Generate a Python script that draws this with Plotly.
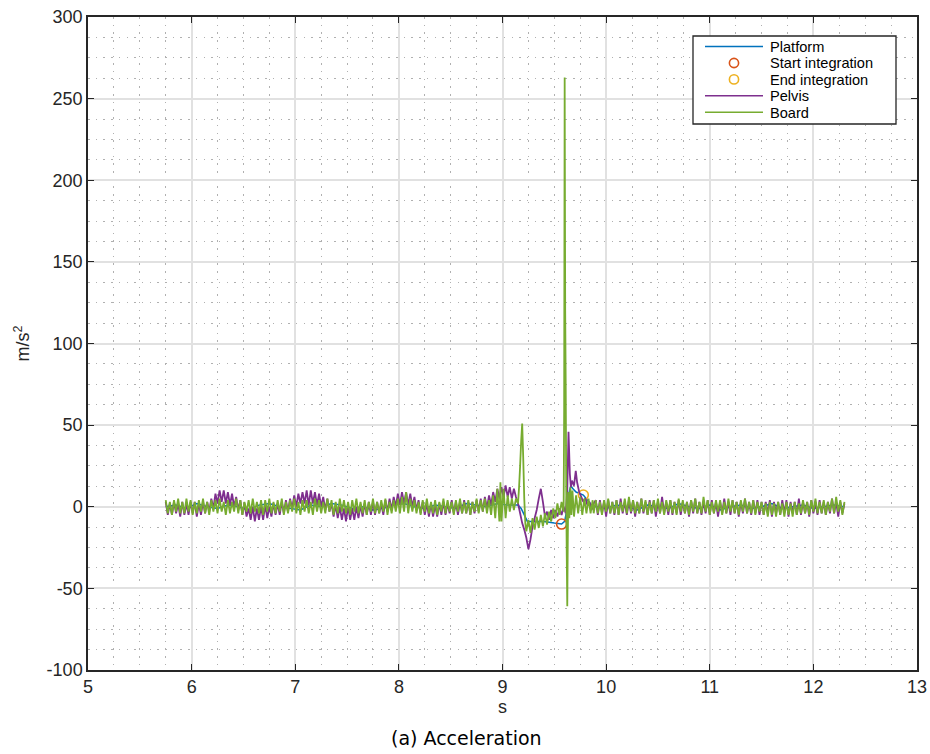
import numpy as np
import plotly.graph_objects as go

# ---------------- data ----------------
DT_FAST = 0.02   # sampling of the noisy segments (s)
DT_SLOW = 0.1    # sampling of the platform trace outside the event (s)

# Board (green)
board_pre_start = 5.75
board_pre = [
    4, -4, 3, -5, 4, -3, 5, -4, 3, -4, 5, -3, 4, -5, 3, -4, 4, -3, 5, -4,
    3, -5, 4, -3, 4, -4, 5, -3, 3, -5, 4, -4, 3, -3, 5, -4, 4, -5, 3, -3,
    4, -4, 5, -3, 3, -4, 4, -5, 4, -3, 5, -4, 3, -4, 4, -3, 5, -5, 3, -4,
    4, -3, 5, -4, 3, -5, 4, -3, 4, -4, 3, -5, 5, -3, 4, -4, 3, -4, 5, -3,
    4, -5, 3, -4, 5, -3, 4, -4, 3, -5, 4, -3, 5, -4, 3, -4, 4, -5, 3, -3,
    5, -4, 3, -4, 4, -3, 5, -5, 3, -4, 4, -3, 5, -4, 6, -3, 9, -4, 5, -3,
    4, -4, 3, -5, 4, -3, 5, -4, 3, -4, 4, -5, 3, -3, 5, -4, 4, -3, 3, -5,
    4, -3, 5, -4, 3, -4, 4, -5, 3, -3, 5, -4, 4, -3, 5, -4,
]
board_evt_t = [
    8.87, 8.89, 8.91, 8.93, 8.95, 8.97, 8.98, 8.99, 9.01, 9.03,
    9.05, 9.07, 9.09, 9.11, 9.13, 9.15, 9.16, 9.17, 9.18, 9.19,
    9.20, 9.21, 9.22, 9.23, 9.25, 9.27, 9.29, 9.31, 9.33, 9.35,
    9.37, 9.39, 9.41, 9.43, 9.45, 9.47, 9.49, 9.51, 9.53, 9.55,
    9.57, 9.59, 9.595, 9.60, 9.605, 9.61, 9.615, 9.62, 9.625, 9.63,
    9.635, 9.645, 9.655, 9.665, 9.675, 9.69, 9.71, 9.73, 9.75, 9.77,
    9.79, 9.81, 9.83, 9.85, 9.87, 9.88,
]
board_evt_v = [
    4, -5, 7, -7, 11, -9, 15, -9, 11, -7,
    7, -3, 5, -2, 5, 2, 12, 25, 40, 51,
    30, 5, -10, -15, -8, -16, -7, -14, -6, -13,
    -5, -12, -4, -11, -3, -9, -1, -7, 2, -5,
    3, -3, 60, 263, 120, 75, 10, -30, -61, -20,
    9, -7, 12, -5, 10, -6, 7, -4, 6, -5,
    5, -4, 5, -4, 4, -4,
]
board_post_start = 9.90
board_post = [
    4, -4, 3, -5, 4, -3, 5, -4, 3, -4, 4, -5, 3, -3, 5, -4, 6, -3, 4, -4,
    3, -4, 5, -3, 4, -5, 3, -4, 4, -3, 5, -4, 3, -5, 4, -3, 4, -4, 3, -5,
    5, -3, 4, -4, 3, -5, 4, -3, 5, -4, 3, -4, 6, -3, 4, -5, 3, -4, 4, -3,
    4, -5, 3, -4, 5, -3, 4, -4, 3, -5, 4, -3, 5, -4, 3, -4, 4, -5, 3, -3,
    3, -5, 2, -6, 3, -5, 2, -6, 3, -5, 2, -6, 3, -5, 2, -6, 3, -5, 2, -4,
    4, -4, 3, -5, 4, -3, 5, -4, 3, -4, 4, -5, 3, -3, 5, -4, 6, -3, 4, -5,
    3,
]

# Pelvis (purple)
pelvis_pre_start = 5.75
pelvis_pre = [
    3, -5, 2, -5, 3, -4, 2, -6, 3, -5, 2, -5, 3, -4, 3, -6, 2, -5, 3, -4,
    3, -3, 5, -1, 8, 2, 10, 3, 10, 2, 9, 1, 8, 0, 6, -2, 4, -5, 2, -6,
    -1, -8, 0, -9, -1, -8, 0, -8, 1, -7, 0, -6, 2, -5, 2, -5, 3, -4, 4, -3,
    5, -1, 7, 0, 8, 2, 9, 2, 10, 1, 10, 2, 9, 1, 8, 0, 6, -2, 5, -3,
    2, -6, 1, -7, 0, -8, -1, -9, 0, -8, -1, -8, 0, -7, 1, -6, 2, -5, 3, -5,
    3, -5, 3, -4, 2, -5, 4, -3, 5, -2, 6, 0, 8, 1, 9, 2, 9, 1, 8, 0,
    6, -2, 4, -4, 3, -5, 2, -6, 2, -6, 1, -6, 2, -5, 3, -5, 2, -4, 4, -4,
    3, -5, 3, -4, 4, -4, 3, -5, 3, -4, 4, -3, 5, -3, 6, -1,
]
pelvis_evt_t = [
    8.87, 8.89, 8.91, 8.93, 8.95, 8.97, 8.99, 9.01, 9.03, 9.05,
    9.07, 9.09, 9.11, 9.13, 9.15, 9.17, 9.19, 9.21, 9.23, 9.25,
    9.27, 9.29, 9.31, 9.33, 9.35, 9.37, 9.39, 9.41, 9.43, 9.45,
    9.47, 9.49, 9.51, 9.53, 9.55, 9.57, 9.59, 9.61, 9.625, 9.637,
    9.65, 9.66, 9.67, 9.69, 9.707, 9.72, 9.74, 9.76, 9.78, 9.80,
    9.82, 9.84, 9.86, 9.88,
]
pelvis_evt_v = [
    7, 1, 9, 3, 11, 5, 12, 6, 13, 6,
    12, 5, 11, 6, 2, -4, -10, -14, -19, -26,
    -20, -12, -7, -2, 5, 11, 3, -6, -3, -8,
    -2, -7, -2, -6, -1, -5, 0, -4, 10, 46,
    20, 12, 16, 13, 22, 15, 9, 6, 3, 5,
    1, 3, -2, 2,
]
pelvis_post_start = 9.90
pelvis_post = [
    4, -5, 4, -4, 3, -6, 4, -4, 3, -5, 4, -5, 5, -4, 3, -5, 4, -4, 4, -6,
    3, -4, 5, -4, 3, -5, 4, -4, 4, -6, 3, -4, 6, -4, 3, -5, 4, -5, 3, -4,
    4, -5, 3, -4, 3, -6, 4, -4, 5, -4, 3, -5, 3, -4, 4, -5, 4, -4, 3, -6,
    3, -4, 5, -4, 3, -5, 4, -4, 3, -6, 3, -4, 5, -4, 3, -5, 4, -4, 4, -5,
    3, -5, 3, -4, 4, -6, 3, -4, 3, -5, 4, -4, 4, -6, 3, -4, 3, -5, 5, -5,
    3, -4, 3, -6, 4, -4, 3, -5, 4, -4, 3, -5, 3, -4, 5, -4, 3, -6, 3, -4,
    2,
]

# Platform (blue)
platform_pre_start = 5.75
platform_pre = [0, 1, -1, 2, 0, -1, 1, 0, -2, 1, 2, 0, -1, -2, 1, 0, 2, 1, -1, 0,
                -2, -1, 1, 2, 0, -1, 1, 0, -1, 2, 1, 0, 2, 1, 1]
platform_evt_t = [9.18, 9.21, 9.24, 9.30, 9.40, 9.50, 9.57, 9.60, 9.62, 9.64,
                  9.66, 9.68, 9.71, 9.75, 9.78, 9.82, 9.86]
platform_evt_v = [-1, -5, -9, -9, -9, -10, -10.6, -9, -2, 8,
                  13, 11, 9, 8, 7.2, 4, 1]
platform_post_start = 9.90
platform_post = [0, -1, 1, 0, -2, 1, 0, -1, 2, 0, -1, 1, -2, 0, 1, -1, 0, 2, -1, 0,
                 1, -1, 0, 1, 0]

# Integration markers
start_t, start_v = [9.57], [-10.6]
end_t, end_v = [9.78], [7.2]

x_ticks = [5, 6, 7, 8, 9, 10, 11, 12, 13]
x_tick_labels = ["5", "6", "7", "8", "9", "10", "11", "12", "13"]
y_ticks = [-100, -50, 0, 50, 100, 150, 200, 250, 300]
y_tick_labels = ["-100", "-50", "0", "50", "100", "150", "200", "250", "300"]

C_PLATFORM = "#0072BD"
C_START = "#D95319"
C_END = "#EDB120"
C_PELVIS = "#7E2F8E"
C_BOARD = "#77AC30"


def assemble(pre_start, pre, evt_t, evt_v, post_start, post, dt):
    t_pre = pre_start + dt * np.arange(len(pre))
    t_post = post_start + dt * np.arange(len(post))
    t = np.concatenate([t_pre, np.array(evt_t, float), t_post])
    v = np.concatenate([np.array(pre, float), np.array(evt_v, float), np.array(post, float)])
    return np.round(t, 4), v


tb, vb = assemble(board_pre_start, board_pre, board_evt_t, board_evt_v,
                  board_post_start, board_post, DT_FAST)
tp, vp = assemble(pelvis_pre_start, pelvis_pre, pelvis_evt_t, pelvis_evt_v,
                  pelvis_post_start, pelvis_post, DT_FAST)
tf, vf = assemble(platform_pre_start, platform_pre, platform_evt_t, platform_evt_v,
                  platform_post_start, platform_post, DT_SLOW)

fig = go.Figure()
fig.add_trace(go.Scatter(x=tf, y=vf, mode="lines", name="Platform",
                         line=dict(color=C_PLATFORM, width=1.5, simplify=False)))
fig.add_trace(go.Scatter(x=start_t, y=start_v, mode="markers", name="Start integration",
                         marker=dict(symbol="circle-open", size=10, color=C_START,
                                     line=dict(width=1.6, color=C_START))))
fig.add_trace(go.Scatter(x=end_t, y=end_v, mode="markers", name="End integration",
                         marker=dict(symbol="circle-open", size=10, color=C_END,
                                     line=dict(width=1.6, color=C_END))))
fig.add_trace(go.Scatter(x=tp, y=vp, mode="lines", name="Pelvis",
                         line=dict(color=C_PELVIS, width=1.8, simplify=False)))
fig.add_trace(go.Scatter(x=tb, y=vb, mode="lines", name="Board",
                         line=dict(color=C_BOARD, width=1.8, simplify=False)))

W, H = 930, 754
ML, MR, MT, MB = 88, 13, 17, 84
PW, PH = W - ML - MR, H - MT - MB


def pxx(x):
    return (x - ML) / PW


def pxy(y):
    return (H - MB - y) / PH


AX_COL = "#262626"
FONT = "Liberation Sans, Arial, Helvetica, sans-serif"

axis_common = dict(
    showline=True, linecolor=AX_COL, linewidth=1.5, mirror="ticks",
    ticks="inside", ticklen=6, tickwidth=1, tickcolor=AX_COL,
    showgrid=True, gridcolor="#e1e1e1", gridwidth=1.5, zeroline=False,
    automargin=False,
    tickfont=dict(family=FONT, size=18, color=AX_COL),
)

fig.update_layout(
    width=W, height=H,
    margin=dict(l=ML, r=MR, t=MT, b=MB, autoexpand=False),
    paper_bgcolor="white", plot_bgcolor="white",
    showlegend=False,
    font=dict(family=FONT, color=AX_COL),
    xaxis=dict(range=[5, 13], tickvals=x_ticks, ticktext=x_tick_labels,
               title=dict(text="s", font=dict(family=FONT, size=18, color=AX_COL), standoff=2),
               minor=dict(tick0=5, dtick=0.25, showgrid=True, gridcolor="#b0b0b0",
                          gridwidth=1, griddash="1.5px,6.2px", ticks=""),
               **axis_common),
    yaxis=dict(range=[-100, 300], tickvals=y_ticks, ticktext=y_tick_labels,
               title=dict(text="m/s<sup>2</sup>", font=dict(family=FONT, size=18, color=AX_COL), standoff=12),
               minor=dict(tick0=-100, dtick=12.5, showgrid=True, gridcolor="#b0b0b0",
                          gridwidth=1, griddash="1.5px,6.2px", ticks=""),
               **axis_common),
)

# Legend box (MATLAB-style), built from the trace definitions
legend_items = [
    ("Platform", C_PLATFORM, "line"),
    ("Start integration", C_START, "circle"),
    ("End integration", C_END, "circle"),
    ("Pelvis", C_PELVIS, "line"),
    ("Board", C_BOARD, "line"),
]
shapes = [dict(type="rect", xref="paper", yref="paper", layer="above",
               x0=pxx(693), x1=pxx(896), y0=pxy(124), y1=pxy(36),
               line=dict(color=AX_COL, width=1.3), fillcolor="white")]
annotations = []
for i, (name, col, kind) in enumerate(legend_items):
    ry = 46.6 + 16.4 * i
    if kind == "line":
        shapes.append(dict(type="line", xref="paper", yref="paper", layer="above",
                           x0=pxx(705), x1=pxx(763), y0=pxy(ry), y1=pxy(ry),
                           line=dict(color=col, width=1.5)))
    else:
        r = 4.6
        shapes.append(dict(type="circle", xref="paper", yref="paper", layer="above",
                           x0=pxx(734 - r), x1=pxx(734 + r), y0=pxy(ry + r), y1=pxy(ry - r),
                           line=dict(color=col, width=1.6)))
    annotations.append(dict(xref="paper", yref="paper", x=pxx(768), y=pxy(ry + 0.5),
                            xanchor="left", yanchor="middle", showarrow=False,
                            text=name, font=dict(family=FONT, size=14.6, color="black")))

annotations.append(dict(xref="paper", yref="paper", x=pxx(466), y=pxy(738),
                        xanchor="center", yanchor="middle", showarrow=False,
                        text="(a) Acceleration",
                        font=dict(family="DejaVu Sans, sans-serif", size=19, color="black")))

fig.update_layout(shapes=shapes, annotations=annotations)

fig.write_html("out.html")
